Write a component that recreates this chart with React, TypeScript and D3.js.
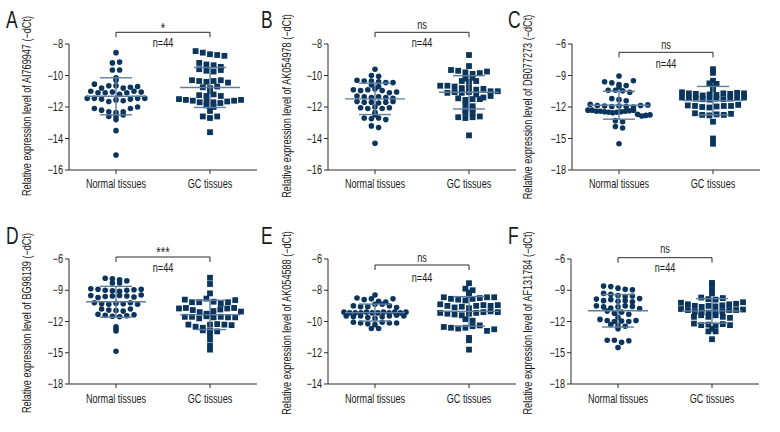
import React from 'react';
import * as d3 from 'd3';

const categories = ['Normal tissues', 'GC tissues'];
const panelLetters = ['A', 'B', 'C', 'D', 'E', 'F'];
const geneNames = ['AI769947', 'AK054978', 'DB077273', 'BG98139', 'AK054588', 'AF131784'];
const significance = ['*', 'ns', 'ns', '***', 'ns', 'ns'];
const sampleLabel = 'n=44';
const yDomains: [number, number][] = [[-16, -8], [-16, -8], [-18, -6], [-18, -6], [-14, -6], [-18, -6]];
const yTicks = [
  [-8, -10, -12, -14, -16],
  [-8, -10, -12, -14, -16],
  [-6, -9, -12, -15, -18],
  [-6, -9, -12, -15, -18],
  [-6, -8, -10, -12, -14],
  [-6, -9, -12, -15, -18],
];

const normalA = [-8.55, -9.2, -9.15, -9.65, -9.65, -10.15, -10.3, -10.55, -10.8, -10.65, -10.65, -10.8, -10.75, -10.7, -11.0, -11.1, -11.1, -11.05, -11.2, -11.1, -11.0, -11.05, -11.45, -11.45, -11.5, -11.65, -11.55, -11.6, -11.5, -11.45, -11.45, -12.1, -12.2, -12.3, -12.35, -12.3, -12.1, -12.0, -12.6, -12.8, -12.6, -12.5, -13.5, -15.05];
const gcA = [-8.45, -8.55, -8.65, -8.7, -8.75, -9.2, -9.3, -9.35, -9.45, -9.6, -9.7, -9.75, -9.65, -10.3, -10.35, -10.4, -10.35, -10.3, -10.45, -10.75, -10.8, -10.7, -11.0, -11.25, -11.3, -11.2, -11.3, -11.5, -11.55, -11.6, -11.7, -11.65, -11.7, -11.75, -11.65, -11.6, -11.55, -11.9, -12.0, -12.25, -12.6, -12.7, -12.6, -13.6];
const normalB = [-9.6, -10.0, -10.05, -10.3, -10.35, -10.35, -10.4, -10.45, -10.45, -10.6, -10.7, -10.9, -10.95, -10.9, -10.85, -10.95, -11.1, -11.05, -11.3, -11.35, -11.4, -11.35, -11.4, -11.45, -11.65, -11.7, -11.7, -11.75, -11.7, -11.65, -12.05, -12.1, -12.0, -12.1, -12.05, -12.35, -12.5, -12.7, -12.75, -12.7, -12.8, -13.2, -13.3, -14.3];
const gcB = [-8.7, -9.4, -9.65, -9.7, -9.8, -9.9, -9.85, -9.75, -10.2, -10.35, -10.4, -10.35, -10.15, -10.65, -10.65, -10.7, -10.8, -10.75, -10.9, -10.85, -11.0, -11.1, -11.05, -11.1, -11.0, -11.05, -11.2, -11.45, -11.55, -11.4, -11.5, -11.5, -11.3, -11.85, -11.95, -12.35, -12.2, -12.15, -12.4, -12.65, -12.7, -12.65, -12.6, -13.8];
const normalC = [-9.05, -9.6, -9.7, -9.85, -9.95, -9.5, -10.1, -10.4, -10.4, -10.45, -10.6, -11.2, -11.3, -11.4, -11.75, -11.85, -11.9, -11.95, -11.9, -11.95, -12.0, -11.85, -11.8, -12.3, -12.3, -12.4, -12.4, -12.45, -12.5, -12.55, -12.5, -12.45, -12.4, -12.35, -12.3, -12.7, -12.85, -12.8, -12.75, -13.3, -13.4, -13.85, -14.0, -15.5];
const gcC = [-8.4, -8.75, -9.5, -9.75, -9.8, -10.1, -10.3, -10.6, -10.7, -10.75, -10.9, -10.8, -10.85, -10.7, -10.75, -10.65, -10.7, -11.1, -11.15, -11.2, -11.25, -11.3, -11.2, -11.25, -11.2, -11.15, -11.1, -11.85, -11.9, -12.0, -12.05, -11.95, -11.9, -11.9, -11.8, -12.6, -12.75, -12.8, -12.7, -12.75, -12.65, -13.4, -15.0, -15.5];
const normalD = [-7.85, -7.9, -8.0, -8.3, -8.3, -8.1, -8.85, -8.9, -9.0, -9.05, -9.1, -9.0, -8.95, -8.9, -9.5, -9.7, -9.6, -9.55, -9.5, -9.55, -9.65, -9.45, -10.2, -10.3, -10.35, -10.25, -10.3, -10.2, -10.35, -10.8, -10.9, -10.95, -11.0, -10.8, -11.3, -11.4, -11.5, -11.55, -11.45, -11.35, -12.5, -12.7, -12.9, -14.85];
const gcD = [-7.8, -8.4, -9.3, -9.9, -10.15, -10.15, -9.8, -10.1, -10.3, -10.15, -9.95, -10.75, -10.7, -10.9, -11.1, -11.3, -11.25, -11.0, -10.85, -10.75, -10.7, -11.05, -11.55, -11.55, -11.7, -11.5, -11.6, -11.55, -11.6, -11.6, -12.3, -12.5, -12.6, -12.3, -12.25, -12.3, -12.35, -12.85, -13.2, -12.9, -12.95, -13.7, -14.3, -14.7];
const normalE = [-8.3, -8.5, -8.6, -8.55, -8.7, -8.75, -8.55, -9.0, -9.05, -9.05, -8.9, -8.9, -9.0, -9.1, -9.4, -9.45, -9.45, -9.45, -9.4, -9.45, -9.45, -9.4, -9.45, -9.4, -9.45, -9.4, -9.65, -9.7, -9.65, -9.75, -9.8, -9.7, -9.65, -9.6, -9.65, -10.05, -10.1, -10.15, -10.2, -10.05, -10.1, -10.1, -10.45, -10.45];
const gcE = [-7.55, -7.9, -8.0, -8.15, -8.3, -8.45, -8.55, -8.6, -8.65, -8.55, -8.5, -8.45, -8.45, -8.9, -9.0, -9.1, -9.05, -9.15, -9.0, -8.95, -9.0, -8.95, -9.45, -9.5, -9.55, -9.6, -9.5, -9.45, -9.4, -9.35, -9.4, -9.85, -9.95, -10.35, -10.4, -10.45, -10.4, -10.3, -10.25, -10.6, -10.5, -11.05, -11.2, -11.8];
const normalF = [-8.6, -8.65, -8.8, -8.9, -8.95, -9.3, -9.4, -9.5, -9.6, -9.55, -9.85, -10.0, -9.9, -10.05, -10.0, -10.1, -9.8, -10.5, -10.6, -10.7, -10.6, -10.5, -10.55, -10.75, -11.0, -11.2, -11.1, -11.3, -11.8, -11.9, -12.0, -11.95, -12.0, -11.9, -11.6, -12.3, -12.4, -12.45, -12.7, -13.8, -13.8, -14.0, -13.85, -14.5];
const gcF = [-8.3, -8.5, -9.0, -9.3, -9.7, -9.85, -9.9, -9.75, -10.2, -10.35, -10.5, -10.6, -10.5, -10.55, -10.45, -10.35, -10.3, -10.15, -10.8, -10.9, -11.05, -11.1, -11.15, -11.1, -11.0, -10.9, -10.9, -10.85, -11.55, -11.4, -11.55, -11.4, -11.55, -11.65, -12.2, -12.35, -12.3, -12.4, -12.25, -12.35, -12.7, -12.95, -12.95, -13.7];

const normalSeries = [normalA, normalB, normalC, normalD, normalE, normalF];
const gcSeries = [gcA, gcB, gcC, gcD, gcE, gcF];

// layout (pixels)
const layout = [
  { left: 69, top: 44, bottom: 170, letterX: 6, letterY: 28, labelX: 27, labelY: 106, bracketY: 32.3, sigY: 33, nY: 47.3, catY: 188 },
  { left: 328, top: 44, bottom: 170, letterX: 261, letterY: 28, labelX: 287, labelY: 106, bracketY: 32.3, sigY: 29.3, nY: 47.3, catY: 188 },
  { left: 572, top: 44, bottom: 170, letterX: 508, letterY: 28, labelX: 528, labelY: 107, bracketY: 52.3, sigY: 49.3, nY: 67.5, catY: 188 },
  { left: 69, top: 259, bottom: 384, letterX: 6, letterY: 244, labelX: 27, labelY: 323, bracketY: 257, sigY: 257, nY: 272, catY: 403 },
  { left: 328, top: 259, bottom: 384, letterX: 261, letterY: 244, labelX: 287, labelY: 323, bracketY: 265, sigY: 262, nY: 282, catY: 403 },
  { left: 571, top: 259, bottom: 384, letterX: 508, letterY: 244, labelX: 528, labelY: 323, bracketY: 257.7, sigY: 253, nY: 272, catY: 403 },
];

const FONT = "'Liberation Sans', Arial, sans-serif";
const SX = 0.76;
const DOT = '#0b355d';
const BAR = '#5f7f9f';
const AXIS = '#2a2a2a';
const TXT = '#1a1a1a';
const PLOT_W = 188;

function rowLayout(ys: number[], gap: number, span: number, step: number, maxW: number): number[] {
  const idx = ys.map((_, k) => k).sort((a, b) => ys[a] - ys[b] || a - b);
  const offs = new Array(ys.length).fill(0);
  let row: number[] = [];
  const flush = () => {
    const n = row.length;
    const s = n > 1 ? Math.min(step, maxW / (n - 1)) : 0;
    const ordered = [...row].sort((a, b) => a - b);
    ordered.forEach((k, j) => { offs[k] = (j - (n - 1) / 2) * s; });
    row = [];
  };
  idx.forEach((k) => {
    if (row.length) {
      const prev = row[row.length - 1];
      if (ys[k] - ys[prev] > gap || ys[k] - ys[row[0]] > span) flush();
    }
    row.push(k);
  });
  flush();
  return offs;
}

function T({ x, y, size = 12, anchor = 'middle', rotate = false, dy, children }: any) {
  return (
    <text
      transform={`translate(${x},${y})${rotate ? ' rotate(-90)' : ''} scale(${SX},1)`}
      textAnchor={anchor}
      fontSize={size}
      dy={dy}
      fill={TXT}
    >
      {children}
    </text>
  );
}

function Panel({ i }: { i: number }) {
  const L = layout[i];
  const x = d3.scalePoint<string>().domain(categories).range([L.left, L.left + PLOT_W]).padding(0.5);
  const y = d3.scaleLinear().domain(yDomains[i]).range([L.bottom, L.top]);
  const groups = [normalSeries[i], gcSeries[i]];
  const xN = x(categories[0])!;
  const xG = x(categories[1])!;
  const isStar = significance[i].includes('*');
  return (
    <g fontFamily={FONT}>
      <T x={L.letterX} y={L.letterY} size={23} anchor="start">{panelLetters[i]}</T>
      <T x={L.labelX + 4} y={L.labelY} size={12} rotate>{`Relative expression level of ${geneNames[i]} (−dCt)`}</T>
      {/* y axis */}
      <line x1={L.left} x2={L.left} y1={L.top} y2={L.bottom} stroke={AXIS} strokeWidth={1} />
      {yTicks[i].map((t) => (
        <g key={t}>
          <line x1={L.left - 4} x2={L.left} y1={y(t)} y2={y(t)} stroke={AXIS} />
          <T x={L.left - 6} y={y(t)} anchor="end" dy="0.35em">{t < 0 ? `−${Math.abs(t)}` : `${t}`}</T>
        </g>
      ))}
      {/* x axis */}
      <line x1={L.left} x2={L.left + PLOT_W} y1={L.bottom} y2={L.bottom} stroke={AXIS} strokeWidth={1} />
      {categories.map((c) => (
        <g key={c}>
          <line x1={x(c)!} x2={x(c)!} y1={L.bottom} y2={L.bottom + 4} stroke={AXIS} />
          <T x={x(c)!} y={L.catY}>{c}</T>
        </g>
      ))}
      {/* points */}
      {groups.map((vals, gi) => {
        const cx = x(categories[gi])!;
        const ys = vals.map((v) => y(v));
        const offs = rowLayout(ys, 2.0, 6, 7.2, 62);
        return (
          <g key={gi}>
            {ys.map((py, k) =>
              gi === 0 ? (
                <circle key={k} cx={cx + offs[k]} cy={py} r={2.8} fill={DOT} />
              ) : (
                <rect key={k} x={cx + offs[k] - 2.9} y={py - 2.9} width={5.8} height={5.8} fill={DOT} />
              )
            )}
          </g>
        );
      })}
      {/* mean & SD */}
      {groups.map((vals, gi) => {
        const cx = x(categories[gi])!;
        const m = d3.mean(vals)!;
        const s = d3.deviation(vals)!;
        return (
          <g key={'e' + gi} stroke={BAR} strokeWidth={1.4}>
            <line x1={cx - 30} x2={cx + 30} y1={y(m)} y2={y(m)} />
            <line x1={cx} x2={cx} y1={y(m + s)} y2={y(m - s)} />
            <line x1={cx - 16} x2={cx + 16} y1={y(m + s)} y2={y(m + s)} />
            <line x1={cx - 16} x2={cx + 16} y1={y(m - s)} y2={y(m - s)} />
          </g>
        );
      })}
      {/* bracket */}
      <path d={`M${xN},${L.bracketY + 5}V${L.bracketY}H${xG}V${L.bracketY + 5}`} fill="none" stroke={AXIS} strokeWidth={1} />
      <T x={(xN + xG) / 2} y={L.sigY} size={isStar ? 15 : 12}>{significance[i]}</T>
      <T x={(xN + xG) / 2} y={L.nY} size={12}>{sampleLabel}</T>
    </g>
  );
}

export default function App() {
  return (
    <svg width={780} height={432} style={{ position: 'absolute', left: 0, top: 0, background: '#fff' }}>
      <rect width={780} height={432} fill="#fff" />
      {panelLetters.map((_, i) => <Panel key={i} i={i} />)}
    </svg>
  );
}
